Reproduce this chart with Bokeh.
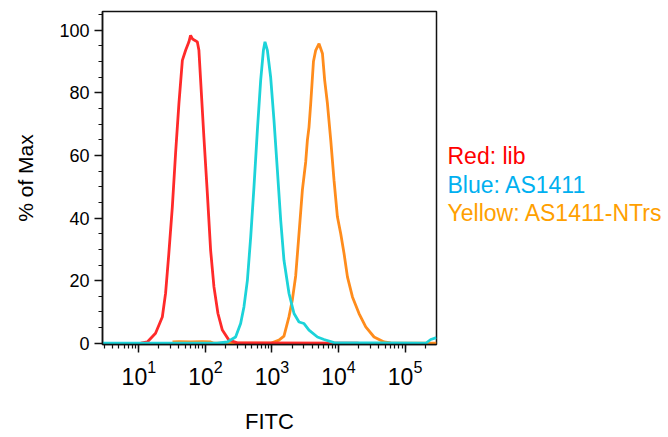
from bokeh.plotting import figure
from bokeh.layouts import row
from bokeh.models import Range1d, LogTicker, SingleIntervalTicker, LogTickFormatter
from bokeh.core.properties import value
from bokeh.embed import file_html
from bokeh.resources import INLINE

# ---- data (FITC intensity, % of Max) ----
red_fitc = [10.7, 13.4, 17.8, 22.5, 25.2, 28.2, 31.8, 35.6, 40.0, 45.0, 50.4, 56.5, 59.8,
            63.5, 68.9, 75.5, 79.8, 84.7, 94.8, 106.9, 119.7, 134.3, 154.2, 179.5, 225.4,
            302.0, 20000]
red_pct = [0, 0.4, 3.2, 8.4, 16, 28.7, 43.5, 60.7, 76.7, 90.4, 93.6, 96.3, 98.4,
           97.3, 96.8, 96.3, 93.6, 84, 65.9, 47.8, 29.7, 18, 9.5, 4.2, 1,
           0.1, 0]

blue_fitc = [2.84, 150, 213, 284, 338, 379, 427, 479, 536, 603, 676, 743, 785, 853, 955,
             1072, 1205, 1352, 1514, 1803, 2143, 2547, 3027, 3597, 4819, 6053, 8551,
             205000, 243000, 296000]
blue_pct = [0, 0, 0.4, 2, 6.3, 11.6, 20.1, 34, 49.9, 68, 84, 93.6, 96.3, 93.6, 85,
            71.2, 55.3, 39.3, 26.5, 15.9, 9.5, 6.8, 6.3, 4.2, 2, 1.2, 0.2,
            0, 1.2, 1.8]

yellow_fitc = [32, 40, 60, 90, 120, 135, 955, 1274, 1514, 1803, 2028, 2270, 2547, 2864,
               3214, 3404, 3597, 3819, 4198, 4539, 5093, 5728, 6194, 6808, 7638, 8551,
               9616, 10790, 12100, 13610, 16180, 20320, 25640, 34200, 48310, 60950, 296000]
yellow_pct = [0.4, 0.5, 0.4, 0.5, 0.4, 0, 0, 1, 2.3, 8.5, 14, 21.5, 35, 49,
              58, 64.9, 69, 76.6, 90, 93.6, 95.7, 92.6, 84, 76.6, 64.9, 52.1,
              40.4, 35, 28.7, 21.2, 14.8, 9.5, 5.2, 2, 0.4, 0.1, 0]

legend_texts = ["Red: lib", "Blue: AS1411", "Yellow: AS1411-NTrs"]
legend_colors = ["#FF0000", "#00B0F0", "#FFA000"]

FONT = "Liberation Sans"
H = 436
TOP, BOTTOM = 11, 92

p = figure(width=440, height=H, x_axis_type="log",
           x_range=Range1d(2.84, 296500), y_range=Range1d(-0.4, 106),
           output_backend="svg", toolbar_location=None,
           min_border_left=102, min_border_right=4, min_border_top=TOP, min_border_bottom=BOTTOM)

p.grid.visible = False
p.outline_line_color = "#111111"
p.outline_line_width = 1.5
p.background_fill_color = "white"
p.border_fill_color = "white"

# lines
p.line(yellow_fitc, yellow_pct, line_color="#FF8C1C", line_width=2.8)
p.line(red_fitc, red_pct, line_color="#FF2A2A", line_width=2.8)
p.line(blue_fitc, blue_pct, line_color="#1CD3D9", line_width=2.8)

# x axis
xa = p.xaxis[0]
xa.ticker = LogTicker(num_minor_ticks=10)
xa.formatter = LogTickFormatter()
xa.axis_line_color = "#111111"
xa.axis_line_width = 1.5
xa.major_tick_in = 0
xa.major_tick_out = 8
xa.minor_tick_in = 0
xa.minor_tick_out = 4
xa.major_tick_line_color = "#111111"
xa.minor_tick_line_color = "#111111"
xa.major_tick_line_width = 1.5
xa.minor_tick_line_width = 1.2
xa.major_label_text_font = FONT
xa.major_label_text_font_size = "23px"
xa.major_label_text_color = "black"
xa.major_label_standoff = 7
xa.axis_label = "FITC"
xa.axis_label_text_font = FONT
xa.axis_label_text_font_size = "22px"
xa.axis_label_text_font_style = "normal"
xa.axis_label_text_color = "black"
xa.axis_label_standoff = 21

# y axis
ya = p.yaxis[0]
ya.ticker = SingleIntervalTicker(interval=20, num_minor_ticks=4)
ya.axis_line_color = "#111111"
ya.axis_line_width = 1.5
ya.major_tick_in = 0
ya.major_tick_out = 8
ya.minor_tick_in = 0
ya.minor_tick_out = 4
ya.major_tick_line_color = "#111111"
ya.minor_tick_line_color = "#111111"
ya.major_tick_line_width = 1.5
ya.minor_tick_line_width = 1.2
ya.major_label_text_font = FONT
ya.major_label_text_font_size = "18px"
ya.major_label_text_color = "black"
ya.major_label_standoff = 5
ya.axis_label = "% of Max"
ya.axis_label_text_font = FONT
ya.axis_label_text_font_size = "21px"
ya.axis_label_text_font_style = "normal"
ya.axis_label_text_color = "black"
ya.axis_label_standoff = 19

# legend panel: same frame rows as the main plot; coordinates = page pixels
LW = 228
q = figure(width=LW, height=H, x_range=Range1d(0, LW), y_range=Range1d(H - BOTTOM, TOP),
           output_backend="svg", toolbar_location=None,
           min_border_left=0, min_border_right=0, min_border_top=TOP, min_border_bottom=BOTTOM)
q.axis.visible = False
q.grid.visible = False
q.outline_line_color = None
q.background_fill_color = "white"
q.border_fill_color = "white"

x0, y0, step = 7, 155.5, 28.5
q.text(x=[x0] * len(legend_texts), y=[y0 + step * i for i in range(len(legend_texts))],
       text=legend_texts, text_color=legend_colors,
       text_font=value(FONT), text_font_size="23px",
       text_align="left", text_baseline="alphabetic")

layout = row(p, q, spacing=0)
open("out.html", "w").write(file_html(layout, INLINE))
